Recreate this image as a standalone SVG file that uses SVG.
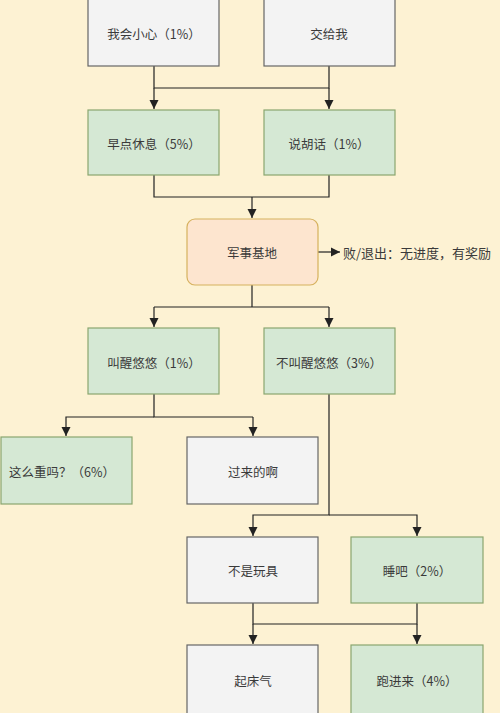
<svg xmlns="http://www.w3.org/2000/svg" width="500" height="713" viewBox="0 0 500 713">
<defs>
<marker id="ah" markerWidth="10" markerHeight="10" refX="9" refY="5" orient="auto" markerUnits="userSpaceOnUse">
<path d="M0,0.5 L9,5 L0,9.5 Z" fill="#222"/>
</marker>
<style>
.gray rect{fill:#f3f3f3;stroke:#666;stroke-width:1.2}
.green rect{fill:#d5e8d4;stroke:#8aa66f;stroke-width:1.2}
.peach rect{fill:#fde5cf;stroke:#d6b15e;stroke-width:1.2}
text{font-family:"Noto Sans CJK SC","Noto Sans",sans-serif;font-size:12.5px;fill:#3a3a3a;text-anchor:middle;dominant-baseline:central}
.side{font-size:13px;text-anchor:start}
.conn path{fill:none;stroke:#222;stroke-width:1.2}
</style>
</defs>
<rect x="0" y="0" width="500" height="713" fill="#fdf2d3"/>
<g class="conn">
<path d="M154,66 V88 H329 V66"/>
<path d="M154,88 V109" marker-end="url(#ah)"/>
<path d="M329,88 V109" marker-end="url(#ah)"/>
<path d="M154,175 V197 H329 V175"/>
<path d="M252,197 V218" marker-end="url(#ah)"/>
<path d="M318,252 H340" marker-end="url(#ah)"/>
<path d="M252,285 V307"/>
<path d="M154,307 H329"/>
<path d="M154,307 V327" marker-end="url(#ah)"/>
<path d="M329,307 V327" marker-end="url(#ah)"/>
<path d="M154,394 V417 H253"/>
<path d="M154,417 H66 V436" marker-end="url(#ah)"/>
<path d="M253,417 V436" marker-end="url(#ah)"/>
<path d="M329,394 V515 H253 V536" marker-end="url(#ah)"/>
<path d="M329,515 H417 V536" marker-end="url(#ah)"/>
<path d="M253,603 V624 H417 V603"/>
<path d="M253,624 V644" marker-end="url(#ah)"/>
<path d="M417,624 V644" marker-end="url(#ah)"/>
</g>
<g id="n1" class="gray"><rect x="88" y="-2" width="131" height="68"/><text x="154" y="33">我会小心（1%）</text></g>
<g id="n2" class="gray"><rect x="264" y="-2" width="131" height="68"/><text x="329" y="33">交给我</text></g>
<g id="n3" class="green"><rect x="88" y="110" width="131" height="65"/><text x="154" y="143">早点休息（5%）</text></g>
<g id="n4" class="green"><rect x="264" y="110" width="131" height="65"/><text x="329" y="143">说胡话（1%）</text></g>
<g id="n5" class="peach"><rect x="187" y="219" width="131" height="66" rx="8"/><text x="252" y="252">军事基地</text></g>
<g id="n6"><text x="343" y="252" class="side">败/退出：无进度，有奖励</text></g>
<g id="n7" class="green"><rect x="88" y="328" width="131" height="66"/><text x="154" y="362">叫醒悠悠（1%）</text></g>
<g id="n8" class="green"><rect x="264" y="328" width="131" height="66"/><text x="329" y="362">不叫醒悠悠（3%）</text></g>
<g id="n9" class="green"><rect x="1" y="437" width="131" height="67"/><text x="62" y="471">这么重吗？（6%）</text></g>
<g id="n10" class="gray"><rect x="187" y="437" width="131" height="67"/><text x="253" y="471">过来的啊</text></g>
<g id="n11" class="gray"><rect x="187" y="537" width="131" height="66"/><text x="253" y="570">不是玩具</text></g>
<g id="n12" class="green"><rect x="351" y="537" width="132" height="66"/><text x="417" y="570">睡吧（2%）</text></g>
<g id="n13" class="gray"><rect x="187" y="645" width="131" height="70"/><text x="253" y="680">起床气</text></g>
<g id="n14" class="green"><rect x="351" y="645" width="132" height="70"/><text x="417" y="680">跑进来（4%）</text></g>
</svg>
